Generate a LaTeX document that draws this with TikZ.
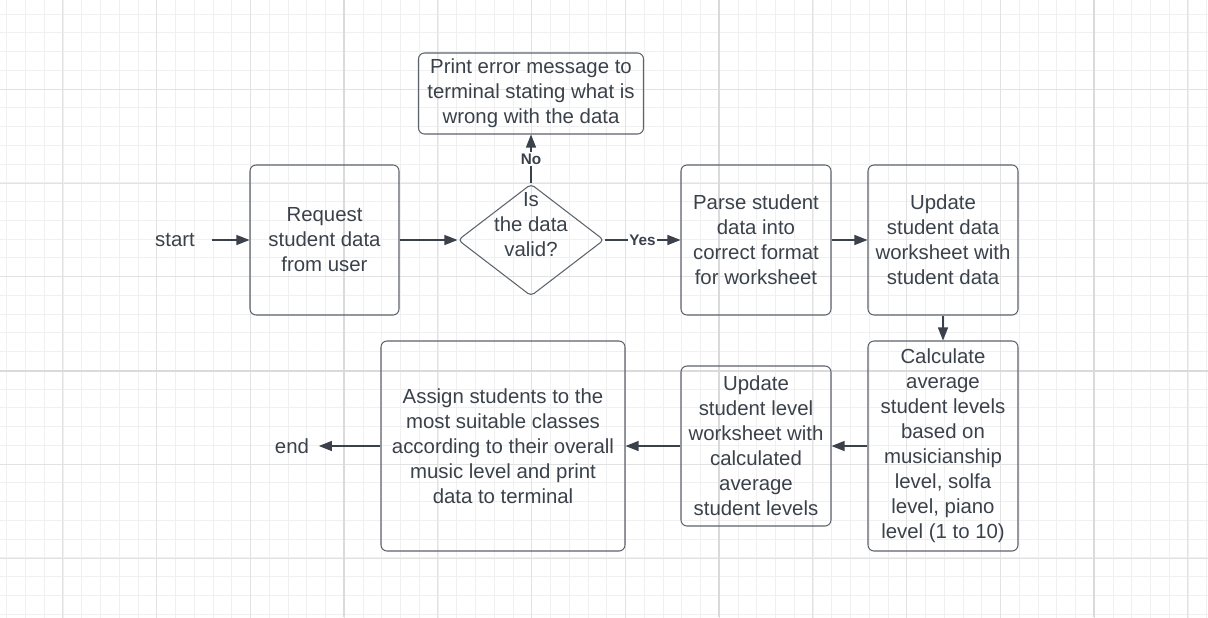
\documentclass[tikz,border=0pt]{standalone}
\usepackage{fontspec}
\setmainfont{Liberation Sans}
\usetikzlibrary{arrows.meta,shapes.geometric}
\definecolor{inkgray}{RGB}{58,65,74}
\definecolor{edgegray}{RGB}{92,99,108}
\definecolor{gridminor}{RGB}{240,240,240}
\definecolor{gridmajor}{RGB}{226,226,226}
\definecolor{gridheavy}{RGB}{218,218,218}
\begin{document}
\begin{tikzpicture}[
    every node/.style={align=center, text=inkgray, font=\fontsize{11.6}{14.2}\selectfont},
    process box/.style={draw=edgegray, line width=0.6pt, rounded corners=0.12cm, inner sep=0pt},
    decision/.style={draw=edgegray, line width=0.6pt, diamond, inner sep=0pt, rounded corners=0.08cm},
    flow arrow/.style={draw=inkgray, line width=0.7pt, -{Triangle[length=0.26cm, width=0.2cm]}},
    branch label/.style={fill=white, inner sep=1pt, font=\fontsize{8.7}{10}\selectfont\bfseries},
    ]
\useasboundingbox (0,0) rectangle (24.16,-12.34);
% background grid
\begin{scope}
\clip (0,0) rectangle (24.16,-12.34);
\draw[gridminor, line width=0.5pt, shift={(0.134,-0.28)}] (-1,-14) grid[step=0.375] (25,1);
\draw[gridmajor, line width=0.5pt, shift={(1.254,-1.786)}] (-2,-15) grid[step=1.875] (24,2);
\draw[gridheavy, line width=0.7pt] (6.88,0) -- (6.88,-12.34);
\draw[gridheavy, line width=0.7pt] (14.38,0) -- (14.38,-12.34);
\draw[gridheavy, line width=0.7pt] (21.88,0) -- (21.88,-12.34);
\draw[gridheavy, line width=0.7pt] (0,-7.42) -- (24.16,-7.42);
\end{scope}
% top row
\node[inner xsep=0.33cm] (start) at (3.500000,-4.800000) {start};
\node[process box, minimum width=2.98cm, minimum height=3.00cm] (Request) at (6.490000,-4.800000) {Request\\student data\\from user};
\node[decision, minimum width=2.92cm, minimum height=2.24cm,
      label={[name=ValidText, yshift=0.3cm, align=center]center:Is\\the data\\valid?}] (Valid) at (10.620000,-4.800000) {};
\node[process box, minimum width=4.50cm, minimum height=1.62cm] (Error) at (10.620000,-1.870000) {Print error message to\\terminal stating what is\\wrong with the data};
\node[process box, minimum width=3.00cm, minimum height=3.00cm] (Parse) at (15.120000,-4.800000) {Parse student\\data into\\correct format\\for worksheet};
\node[process box, minimum width=3.00cm, minimum height=3.00cm] (UpdateData) at (18.860000,-4.800000) {Update\\student data\\worksheet with\\student data};
% bottom row
\node[process box, minimum width=3.00cm, minimum height=4.20cm] (Calculate) at (18.860000,-8.920000) {Calculate\\average\\student levels\\based on\\musicianship\\level, solfa\\level, piano\\level (1 to 10)};
\node[process box, minimum width=3.00cm, minimum height=3.20cm] (UpdateLevel) at (15.120000,-8.920000) {Update\\student level\\worksheet with\\calculated\\average\\student levels};
\node[process box, minimum width=4.88cm, minimum height=4.20cm] (Assign) at (10.060000,-8.920000) {Assign students to the\\most suitable classes\\according to their overall\\music level and print\\data to terminal};
\node[inner xsep=0.19cm] (end) at (5.840000,-8.920000) {end};
\draw[flow arrow] (start) -- (Request);
\draw[flow arrow] (Request) -- (Valid);
\draw[flow arrow] (Valid) -- node[branch label] (NoLabel) {No} (Error);
\draw[flow arrow] (Valid) -- node[branch label] (YesLabel) {Yes} (Parse);
\draw[flow arrow] (Parse) -- (UpdateData);
\draw[flow arrow] (UpdateData) -- (Calculate);
\draw[flow arrow] (Calculate) -- (UpdateLevel);
\draw[flow arrow] (UpdateLevel) -- (Assign);
\draw[flow arrow] (Assign) -- (end);
\end{tikzpicture}
\end{document}
